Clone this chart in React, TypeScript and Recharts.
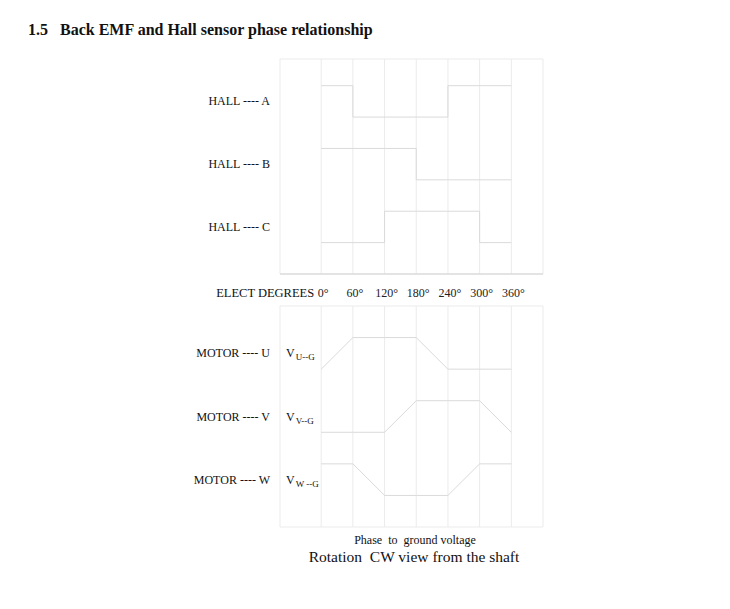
import React from 'react'
import { LineChart, Line, XAxis, YAxis, CartesianGrid } from 'recharts'

// electrical angle (deg) for every sample
const degrees = [0, 60, 120, 180, 240, 300, 360]
const degreeTicks = ['0°', '60°', '120°', '180°', '240°', '300°', '360°']

// hall sensor levels (1 = high, 0 = low), held until next sample
const hallA = [1, 0, 0, 0, 1, 1, 1]
const hallB = [1, 1, 1, 0, 0, 0, 0]
const hallC = [0, 0, 1, 1, 1, 0, 0]
const hallLabels = ['HALL ---- C', 'HALL ---- B', 'HALL ---- A']

// phase to ground back-EMF (trapezoid)
const motorU = [0, 1, 1, 1, 0, 0, 0]
const motorV = [0, 0, 0, 1, 1, 1, 0]
const motorW = [1, 1, 0, 0, 0, 1, 1]
const motorLabels = ['MOTOR ---- W', 'MOTOR ---- V', 'MOTOR ---- U']
const motorSubs = ['W --G', 'V--G', 'U--G']

const FONT = "'Liberation Serif', 'Times New Roman', serif"
const GRID = '#ebebeb'
const WAVE = '#dadada'

// rows stacked: each signal sits 2 units above the one below
const hallData = degrees.map((d, i) => ({ deg: d, a: hallA[i] + 4, b: hallB[i] + 2, c: hallC[i] }))
const motorData = degrees.map((d, i) => ({ deg: d, u: motorU[i] + 4, v: motorV[i] + 2, w: motorW[i] }))

const xTicks = [-78, ...degrees, 420]
const rowTicks = [0.5, 2.5, 4.5]

const DegreeTick = (props: any) => {
  const { x, y, payload } = props
  const idx = degrees.indexOf(payload.value)
  if (idx < 0) return null
  return (
    <g>
      {idx === 0 && (
        <text x={x - 7} y={y + 15} textAnchor="end" fontFamily={FONT} fontSize={12.5} fill="#111">
          ELECT DEGREES
        </text>
      )}
      <text x={x + 2} y={y + 15} textAnchor="middle" fontFamily={FONT} fontSize={12} fill="#222">
        {degreeTicks[idx]}
      </text>
    </g>
  )
}

const HallTick = (props: any) => {
  const { x, y, payload } = props
  const idx = rowTicks.indexOf(payload.value)
  if (idx < 0) return null
  return (
    <text x={x} y={y + 4} textAnchor="end" fontFamily={FONT} fontSize={12} fill="#111">
      {hallLabels[idx]}
    </text>
  )
}

const MotorTick = (props: any) => {
  const { x, y, payload } = props
  const idx = rowTicks.indexOf(payload.value)
  if (idx < 0) return null
  return (
    <g fontFamily={FONT} fill="#111">
      <text x={x} y={y + 4} textAnchor="end" fontSize={12}>
        {motorLabels[idx]}
      </text>
      <text x={x + 16} y={y + 4} fontSize={12}>
        V
        <tspan fontSize={9} dy={3} dx={1}>{motorSubs[idx]}</tspan>
      </text>
    </g>
  )
}

export default function App() {
  return (
    <div style={{ position: 'absolute', left: 0, top: 0, width: 730, height: 609, background: '#fff', fontFamily: FONT, color: '#111' }}>
      <div style={{ position: 'absolute', left: 28, top: 21, fontSize: 16, fontWeight: 'bold', whiteSpace: 'pre' }}>
        {'1.5   Back EMF and Hall sensor phase relationship'}
      </div>

      <div style={{ position: 'absolute', left: 0, top: 0 }}>
        <LineChart width={730} height={310} data={hallData} margin={{ top: 59, right: 187, bottom: 6, left: 180 }}>
          <CartesianGrid stroke={GRID} horizontalValues={[-1, 5.85]} verticalValues={xTicks} />
          <XAxis
            dataKey="deg"
            type="number"
            domain={[-78, 420]}
            ticks={xTicks}
            height={30}
            tickLine={false}
            axisLine={{ stroke: '#d2d2d2' }}
            tick={<DegreeTick />}
          />
          <YAxis
            type="number"
            domain={[-1, 5.85]}
            ticks={rowTicks}
            width={100}
            axisLine={false}
            tickLine={false}
            tick={<HallTick />}
            tickMargin={4}
          />
          <Line type="stepAfter" dataKey="a" stroke={WAVE} strokeWidth={1} dot={false} isAnimationActive={false} />
          <Line type="stepAfter" dataKey="b" stroke={WAVE} strokeWidth={1} dot={false} isAnimationActive={false} />
          <Line type="stepAfter" dataKey="c" stroke={WAVE} strokeWidth={1} dot={false} isAnimationActive={false} />
        </LineChart>
      </div>

      <div style={{ position: 'absolute', left: 0, top: 300 }}>
        <LineChart width={730} height={309} data={motorData} margin={{ top: 6, right: 187, bottom: 82, left: 180 }}>
          <CartesianGrid stroke={GRID} horizontalValues={[-1, 6]} verticalValues={xTicks} />
          <XAxis dataKey="deg" type="number" domain={[-78, 420]} ticks={xTicks} hide />
          <YAxis
            type="number"
            domain={[-1, 6]}
            ticks={rowTicks}
            width={100}
            axisLine={false}
            tickLine={false}
            tick={<MotorTick />}
            tickMargin={4}
          />
          <Line type="linear" dataKey="u" stroke={WAVE} strokeWidth={1} dot={false} isAnimationActive={false} />
          <Line type="linear" dataKey="v" stroke={WAVE} strokeWidth={1} dot={false} isAnimationActive={false} />
          <Line type="linear" dataKey="w" stroke={WAVE} strokeWidth={1} dot={false} isAnimationActive={false} />
        </LineChart>
      </div>

      <div style={{ position: 'absolute', left: 0, width: 830, top: 533, textAlign: 'center', fontSize: 12, whiteSpace: 'pre' }}>
        {'Phase  to  ground voltage'}
      </div>
      <div style={{ position: 'absolute', left: 0, width: 828, top: 548, textAlign: 'center', fontSize: 15.5, whiteSpace: 'pre' }}>
        {'Rotation  CW view from the shaft'}
      </div>
    </div>
  )
}
